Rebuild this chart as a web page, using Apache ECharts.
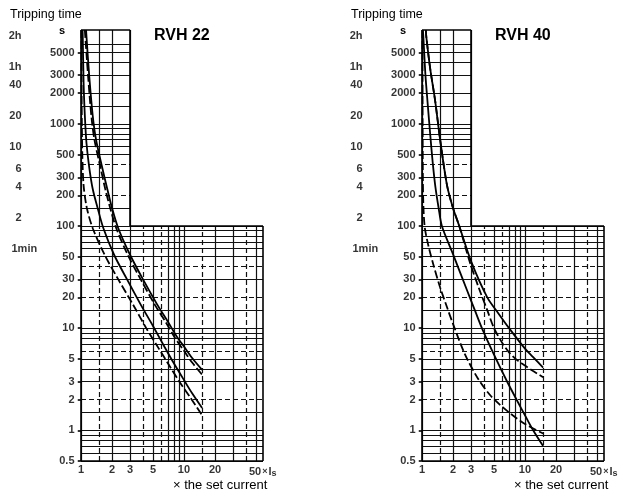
<!DOCTYPE html>
<html>
<head>
<meta charset="utf-8">
<script src="https://cdn.jsdelivr.net/npm/echarts@6/dist/echarts.min.js"></script>
<style>
html, body { margin: 0; padding: 0; background: #fff; }
#chart { width: 619px; height: 489px; }
</style>
</head>
<body>
<div id="chart"></div>
<script>
// axis ranges (x = multiple of set current, y = seconds)
var xMin = 1, xMax = 58.5, yMin = 0.5, yMax = 8300;
var upperRight = 3, lowerTop = 100;

// grid lines of the log paper
var xGridLower = [1, 1.5, 2, 3, 4, 5, 6, 7, 8, 9, 10, 15, 20, 30, 40, 50];
var xGridUpper = [1, 1.5, 2, 3];
var yGridLower = [0.5, 0.6, 0.7, 0.8, 0.9, 1, 1.5, 2, 3, 4, 5, 6, 7, 8, 9, 10, 15, 20, 30, 40, 50, 60, 70, 80, 90, 100];
var yGridUpper = [150, 200, 300, 400, 500, 600, 700, 800, 900, 1000, 1500, 2000, 3000, 4000, 5000, 6000];
var xGridDashed = [1.5, 4, 6, 15, 40];
var yGridDashed = [2, 6, 20, 40, 200, 400];

// tick labels
var secondLabels = [0.5, 1, 2, 3, 5, 10, 20, 30, 50, 100, 200, 300, 500, 1000, 2000, 3000, 5000];
var minuteValues = [7200, 3600, 2400, 1200, 600, 360, 240, 120, 60];
var minuteLabels = ['2h', '1h', '40', '20', '10', '6', '4', '2', '1min'];
var currentLabels = [1, 2, 3, 5, 10, 20, 50];

// RVH 22 curves [x Is, seconds]
var rvh22UpperSolid = [[1.12, 8300], [1.13, 7200], [1.2, 3000], [1.3, 1200], [1.4, 700], [1.6, 380], [1.8, 230], [2.0, 150], [2.3, 95], [3.0, 52], [4.0, 30], [5.5, 17], [7.0, 11.5], [8.5, 8.3], [10, 6.6], [12, 5.1], [15, 3.9]];
var rvh22UpperDashed = [[1.09, 8300], [1.1, 7200], [1.17, 3000], [1.26, 1200], [1.35, 700], [1.54, 380], [1.72, 230], [1.92, 150], [2.2, 95], [2.85, 52], [3.8, 30], [5.2, 17], [6.7, 11.3], [8.2, 8.0], [10, 6.0], [12, 4.6], [15, 3.5]];
var rvh22LowerSolid = [[1.035, 8300], [1.04, 7200], [1.06, 2500], [1.09, 1200], [1.13, 650], [1.2, 380], [1.3, 230], [1.45, 150], [1.65, 95], [2.1, 52], [2.8, 30], [3.8, 17], [5.0, 10.5], [6.5, 6.5], [8, 4.5], [10, 3.1], [12, 2.3], [15, 1.65]];
var rvh22LowerDashed = [[1.01, 8300], [1.015, 1500], [1.03, 500], [1.06, 250], [1.14, 150], [1.3, 95], [1.7, 52], [2.3, 30], [3.2, 17], [4.3, 10], [5.7, 6.3], [7.2, 4.3], [9, 3.0], [11.5, 2.1], [15, 1.4]];

// RVH 40 curves [x Is, seconds]
var rvh40UpperSolid = [[1.09, 8300], [1.1, 7200], [1.2, 3500], [1.34, 1700], [1.5, 700], [1.75, 250], [2.0, 150], [2.3, 100], [3.0, 45], [4.3, 20], [5.5, 14], [7, 10], [10, 6.3], [12, 5.2], [15, 4.1]];
var rvh40UpperDashed = [[1.09, 8300], [1.1, 7200], [1.2, 3500], [1.34, 1700], [1.5, 700], [1.75, 250], [2.0, 150], [2.3, 100], [2.9, 45], [3.6, 24], [4.3, 15], [5, 10], [6, 7.2], [7, 5.8], [8.5, 4.8], [10, 4.3], [12, 3.8], [15, 3.3]];
var rvh40MiddleSolid = [[1.02, 8300], [1.03, 7200], [1.08, 3000], [1.14, 1500], [1.2, 800], [1.27, 420], [1.35, 240], [1.45, 150], [1.56, 100], [2.0, 53], [2.73, 23.6], [3.3, 14.5], [3.9, 9.5], [5, 5.5], [6.7, 3.0], [8.5, 1.9], [10, 1.4], [12, 1.0], [15, 0.7]];
var rvh40LowerDashed = [[1.01, 8300], [1.015, 700], [1.025, 200], [1.06, 100], [1.15, 65], [1.28, 43], [1.5, 25], [1.75, 16], [2.0, 11], [2.6, 5.6], [3.5, 3.2], [4.6, 2.2], [6, 1.7], [7.6, 1.4], [10, 1.15], [15, 0.93]];

var font = '"Liberation Sans", Arial, sans-serif';
var panels = [
    { left: 81, name: 'RVH 22', curves: [[rvh22UpperSolid, false], [rvh22UpperDashed, true], [rvh22LowerSolid, false], [rvh22LowerDashed, true]] },
    { left: 422, name: 'RVH 40', curves: [[rvh40UpperSolid, false], [rvh40UpperDashed, true], [rvh40MiddleSolid, false], [rvh40LowerDashed, true]] }
];

function seg(a, b) {
    return { coords: [a, b] };
}

var grids = [], xAxes = [], yAxes = [], series = [], titles = [];

panels.forEach(function (p, i) {
    grids.push({ left: p.left, top: 30, width: 182, height: 431, outerBoundsMode: 'none', containLabel: false });
    xAxes.push({ type: 'log', gridIndex: i, min: xMin, max: xMax, axisLine: { show: false }, axisTick: { show: false }, axisLabel: { show: false }, splitLine: { show: false } });
    yAxes.push({ type: 'log', gridIndex: i, min: yMin, max: yMax, axisLine: { show: false }, axisTick: { show: false }, axisLabel: { show: false }, splitLine: { show: false } });

    var solid = [], dashed = [], border = [];
    xGridLower.forEach(function (x) {
        (xGridDashed.indexOf(x) >= 0 ? dashed : solid).push(seg([x, yMin], [x, lowerTop]));
    });
    xGridUpper.forEach(function (x) {
        solid.push(seg([x, lowerTop], [x, yMax]));
    });
    yGridLower.forEach(function (y) {
        (yGridDashed.indexOf(y) >= 0 ? dashed : solid).push(seg([xMin, y], [xMax, y]));
    });
    yGridUpper.forEach(function (y) {
        (yGridDashed.indexOf(y) >= 0 ? dashed : solid).push(seg([xMin, y], [upperRight, y]));
    });
    border.push(seg([xMin, yMin], [xMin, yMax]));
    border.push(seg([xMin, yMin], [xMax, yMin]));
    border.push(seg([xMax, yMin], [xMax, lowerTop]));
    border.push(seg([upperRight, lowerTop], [xMax, lowerTop]));
    border.push(seg([upperRight, lowerTop], [upperRight, yMax]));
    border.push(seg([xMin, yMax], [upperRight, yMax]));
    secondLabels.forEach(function (v) {
        border.push(seg([0.93, v], [xMin, v]));
    });

    var base = { type: 'lines', coordinateSystem: 'cartesian2d', xAxisIndex: i, yAxisIndex: i, silent: true, clip: false, z: 1 };
    series.push(Object.assign({}, base, { data: solid, lineStyle: { color: '#111', width: 1.2, opacity: 1 } }));
    series.push(Object.assign({}, base, { data: dashed, lineStyle: { color: '#111', width: 1.2, opacity: 1, type: [5, 3] } }));
    series.push(Object.assign({}, base, { data: border, lineStyle: { color: '#000', width: 1.6, opacity: 1 } }));

    p.curves.forEach(function (c) {
        series.push({
            type: 'line', xAxisIndex: i, yAxisIndex: i, data: c[0], showSymbol: false, symbol: 'none',
            smooth: 0.3, silent: true, z: 5,
            lineStyle: { color: '#000', width: 1.8, type: c[1] ? [8, 3] : 'solid' }
        });
    });

    var labelStyle = { show: true, color: '#000', fontFamily: font, fontSize: 11, fontWeight: 'bold' };
    series.push({
        type: 'scatter', xAxisIndex: i, yAxisIndex: i, symbolSize: 1, silent: true,
        itemStyle: { color: 'rgba(0,0,0,0)' },
        data: secondLabels.map(function (v) { return [xMin, v]; }),
        label: Object.assign({}, labelStyle, { position: 'left', distance: 6, formatter: function (d) { return String(d.value[1]); } })
    });
    series.push({
        type: 'scatter', xAxisIndex: i, yAxisIndex: i, symbolSize: 1, silent: true,
        itemStyle: { color: 'rgba(0,0,0,0)' },
        data: minuteValues.map(function (v, k) {
            var item = { value: [xMin, v], name: minuteLabels[k] };
            if (minuteLabels[k] === '1min') {
                item.label = { align: 'left', distance: 69 };
            }
            return item;
        }),
        label: Object.assign({}, labelStyle, { position: 'left', distance: 59, formatter: '{b}' })
    });
    series.push({
        type: 'scatter', xAxisIndex: i, yAxisIndex: i, symbolSize: 1, silent: true,
        itemStyle: { color: 'rgba(0,0,0,0)' },
        data: currentLabels.map(function (v) {
            var item = { value: [v, yMin] };
            if (v === 50) {
                item.label = {
                    align: 'left', offset: [-7, 0],
                    formatter: '50{x|×}{i|I}{s|s}',
                    rich: {
                        x: { fontSize: 9, fontWeight: 'bold', fontFamily: font, padding: [0, 1, 0, 1] },
                        i: { fontSize: 11, fontWeight: 'bold', fontFamily: font },
                        s: { fontSize: 9, fontWeight: 'bold', fontFamily: font, padding: [5, 0, 0, 0] }
                    }
                };
            }
            return item;
        }),
        label: Object.assign({}, labelStyle, { position: 'bottom', distance: 3, formatter: function (d) { return String(d.value[0]); } })
    });

    var dx = p.left - 81;
    titles.push({ text: 'Tripping time', left: 10 + dx, top: 8, padding: 0, textStyle: { fontFamily: font, fontSize: 12.5, fontWeight: 'normal', color: '#000' } });
    titles.push({ text: p.name, left: 154 + dx, top: 28, padding: 0, textStyle: { fontFamily: font, fontSize: 16, fontWeight: 'bold', color: '#000' } });
    titles.push({ text: 's', left: 59 + dx, top: 25, padding: 0, textStyle: { fontFamily: font, fontSize: 11, fontWeight: 'bold', color: '#000' } });
    titles.push({ text: '× the set current', left: 173 + dx, top: 479, padding: 0, textStyle: { fontFamily: font, fontSize: 13, fontWeight: 'normal', color: '#000' } });
});

var chart = echarts.init(document.getElementById('chart'));
chart.setOption({
    animation: false,
    backgroundColor: '#fff',
    title: titles,
    grid: grids,
    xAxis: xAxes,
    yAxis: yAxes,
    series: series
});
</script>
</body>
</html>
